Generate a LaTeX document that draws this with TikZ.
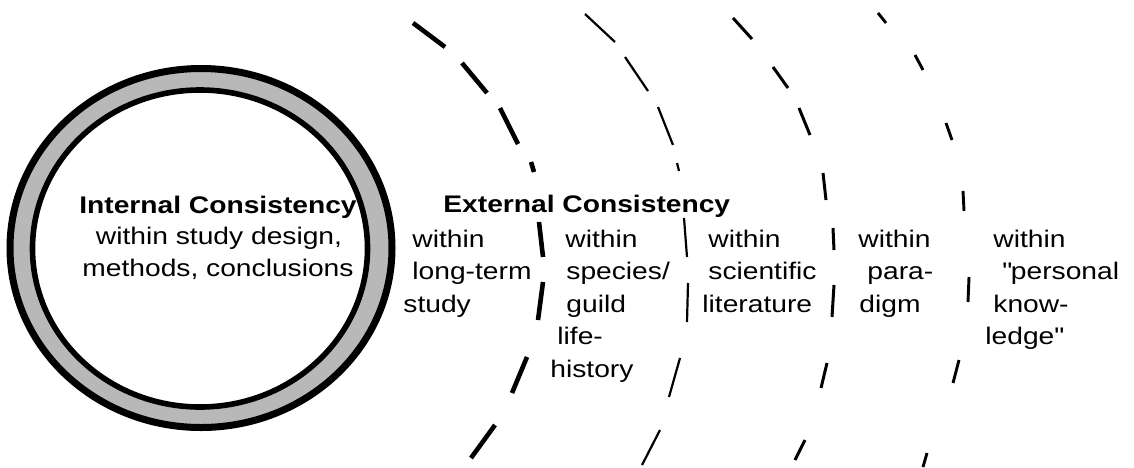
\documentclass[tikz,border=0pt]{standalone}
\usepackage{fontspec}
\setmainfont{Liberation Sans}[FakeStretch=1.175]
% comilla recta, sin pasar por el mapeo tex-text
\newcommand{\comrecta}{\XeTeXglyph\XeTeXcharglyph"22\relax}
\begin{document}
\begin{tikzpicture}[x=0.5pt, y=-0.5pt,
    txt/.style={inner sep=0pt, anchor=base west, font=\fontsize{12}{15}\selectfont},
    arcoA/.style={line width=2.3pt},
    arcoB/.style={line width=1.1pt},
    arcoC/.style={line width=1.5pt},
    arcoD/.style={line width=1.45pt}]
    \useasboundingbox (0,0) rectangle (1134,467);

    % Anillo punteado alrededor de la consistencia interna.
    \fill[black!28, even odd rule] (201,248) ellipse (191 and 179.5)
        (200,248.5) ellipse (167.5 and 158.5);
    \draw[line width=3.5pt] (201,248) ellipse (191 and 179.5);
    \draw[line width=2.8pt] (200,248.5) ellipse (167.5 and 158.5);

    \node[txt, anchor=base] (intTit) at (218,213) {\textbf{Internal Consistency}};
    \node[txt, anchor=base] (intA) at (219,244.5) {within study design,};
    \node[txt, anchor=base] (intB) at (218,276) {methods, conclusions};

    % Arcos discontinuos, un trazo por guion.
    \foreach \xa/\ya/\xb/\yb in {413/23/445/47, 462/63/487/93, 500/108/518/144,
        531/162/534/172, 539/222/543/257, 543/282/538/320, 527/357/512/393,
        495/425/471/458}
        \draw[arcoA] (\xa,\ya) -- (\xb,\yb);
    \foreach \xa/\ya/\xb/\yb in {585/14/615/42, 625/57/648/91, 658/107/673/145,
        677/163/679/171, 684/218/687/257, 688/283/687/322, 680/358/669/397,
        660/430/642/465}
        \draw[arcoB] (\xa,\ya) -- (\xb,\yb);
    \foreach \xa/\ya/\xb/\yb in {733/18/752/39, 773/67/788/88, 799/108/810/135,
        823/173/826/200, 833/228/834/250, 834/285/832/317, 827/363/821/388,
        805/440/795/460}
        \draw[arcoC] (\xa,\ya) -- (\xb,\yb);
    \foreach \xa/\ya/\xb/\yb in {878/13/886/23, 915/55/923/70, 946/123/952/140,
        963/191/964/211, 969/277/968/302, 959/360/953/383, 927/453/923/467}
        \draw[arcoD] (\xa,\ya) -- (\xb,\yb);

    % Consistencia externa y sus niveles.
    \node[txt] (extTit) at (443,212) {\textbf{External Consistency}};

    \node[txt] (largoA) at (412,247) {within};
    \node[txt] (largoB) at (412,279.5) {long-term};
    \node[txt] (largoC) at (403,312) {study};

    \node[txt] (espA) at (565,247) {within};
    \node[txt] (espB) at (566,279.5) {species/};
    \node[txt] (espC) at (566,312) {guild};
    \node[txt] (espD) at (557,344.5) {life-};
    \node[txt] (espE) at (550,377) {history};

    \node[txt] (litA) at (708,247) {within};
    \node[txt] (litB) at (708,279.5) {scientific};
    \node[txt] (litC) at (702,312) {literature};

    \node[txt] (parA) at (858,247) {within};
    \node[txt] (parB) at (867,279.5) {para-};
    \node[txt] (parC) at (859,312) {digm};

    \node[txt] (perA) at (993,247) {within};
    \node[txt] (perB) at (1002,279.5) {\comrecta personal};
    \node[txt] (perC) at (993,312) {know-};
    \node[txt] (perD) at (985,344.5) {ledge\comrecta};
\end{tikzpicture}
\end{document}
